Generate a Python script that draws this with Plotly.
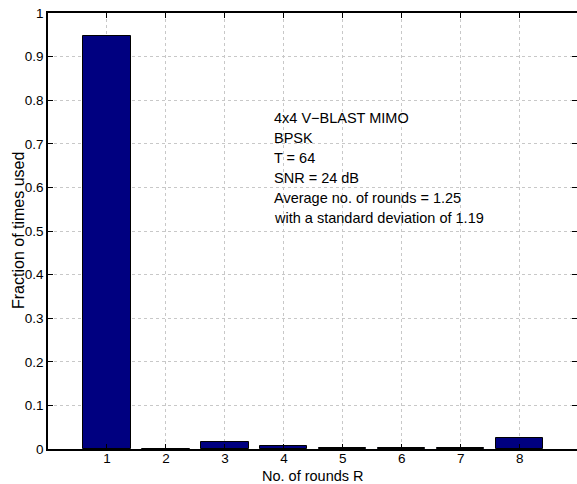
import plotly.graph_objects as go

rounds = [1, 2, 3, 4, 5, 6, 7, 8]
fraction_used = [0.947, 0.001, 0.016, 0.008, 0.003, 0.003, 0.003, 0.025]
y_ticks = [0, 0.1, 0.2, 0.3, 0.4, 0.5, 0.6, 0.7, 0.8, 0.9, 1]
y_tick_labels = ["0", "0.1", "0.2", "0.3", "0.4", "0.5", "0.6", "0.7", "0.8", "0.9", "1"]
x_title = "No. of rounds R"
y_title = "Fraction of times used"
info_lines = [
    "4x4 V\u2212BLAST MIMO",
    "BPSK",
    "T = 64",
    "SNR = 24 dB",
    "Average no. of rounds = 1.25",
    "with a standard deviation of 1.19",
]

FONT = "Liberation Sans, Arial, Helvetica, sans-serif"

fig = go.Figure()
fig.add_trace(go.Bar(
    x=rounds,
    y=fraction_used,
    width=0.8,
    marker=dict(color="#000080", line=dict(color="black", width=1)),
    showlegend=False,
    hoverinfo="skip",
))

for i, line in enumerate(info_lines):
    fig.add_annotation(
        x=3.8, y=0.759 - i * 0.0459, xref="x", yref="y",
        text=line, showarrow=False, xanchor="left", yanchor="middle",
        font=dict(family=FONT, size=14.5, color="black"),
    )

# axis titles
fig.add_annotation(
    x=0.5, y=0, xref="paper", yref="paper", yshift=-27,
    text=x_title, showarrow=False, xanchor="center", yanchor="middle",
    font=dict(family=FONT, size=14.5, color="black"),
)
fig.add_annotation(
    x=0, y=0.5, xref="paper", yref="paper", xshift=-30,
    text=y_title, showarrow=False, textangle=-90, xanchor="center", yanchor="middle",
    font=dict(family=FONT, size=16, color="black"),
)

fig.update_layout(
    template="none",
    width=577, height=484,
    margin=dict(l=48, r=0, t=13, b=35, autoexpand=False),
    paper_bgcolor="white", plot_bgcolor="white",
    font=dict(family=FONT, size=14, color="black"),
    bargap=0,
)
fig.update_xaxes(
    automargin=False,
    range=[0, 8.97],
    tickmode="array", tickvals=rounds, ticktext=[str(r) for r in rounds],
    ticks="inside", ticklen=5, tickcolor="black",
    showline=True, linecolor="black", linewidth=1.5, mirror="ticks",
    showgrid=True, gridcolor="#c8c8c8", griddash="dot", gridwidth=1,
    zeroline=False,
    tickfont=dict(size=13.5),
    ticklabelstandoff=-4,
)
fig.update_yaxes(
    automargin=False,
    range=[0, 1],
    tickmode="array", tickvals=y_ticks, ticktext=y_tick_labels,
    ticks="inside", ticklen=5, tickcolor="black",
    showline=True, linecolor="black", linewidth=1.5, mirror="ticks",
    showgrid=True, gridcolor="#c8c8c8", griddash="dot", gridwidth=1,
    zeroline=False,
    tickfont=dict(size=13.5),
)

fig.write_html(
    "out.html",
    config={"displayModeBar": False},
    post_script="document.body.style.margin='0px';document.body.style.overflow='hidden';",
)
